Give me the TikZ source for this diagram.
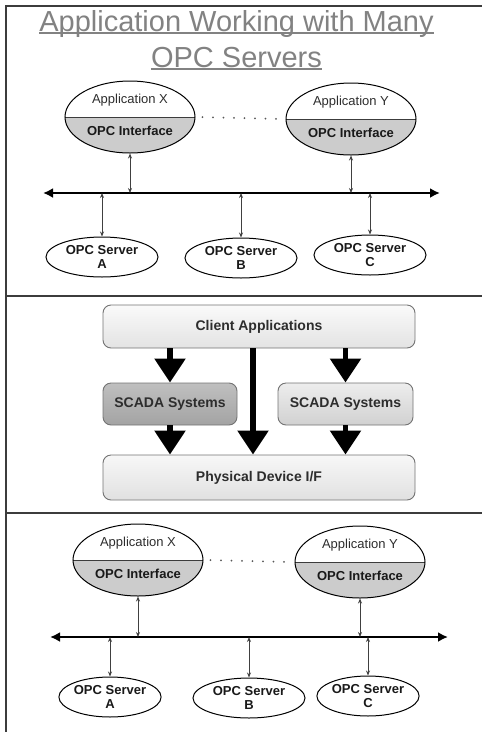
\documentclass[tikz,border=0pt]{standalone}
\usepackage{fontspec}
\setmainfont{Liberation Sans}
\usetikzlibrary{arrows.meta,positioning,shapes.geometric}
\definecolor{titlegray}{RGB}{130,130,130}
\definecolor{framegray}{RGB}{60,60,60}
\definecolor{ifgray}{RGB}{204,204,204}
\definecolor{txtgray}{RGB}{45,45,45}

\begin{document}
\begin{tikzpicture}[x=1pt,y=-1pt,
  frame/.style={draw=framegray,line width=1.4pt},
  heading/.style={anchor=base,inner sep=0pt,text=titlegray,font=\fontsize{29}{32}\selectfont},
  app/.style={ellipse,draw=black,line width=1pt,minimum width=130pt,minimum height=72pt,inner sep=0pt,
    path picture={\fill[ifgray] (path picture bounding box.west) rectangle (path picture bounding box.south east);
      \draw[framegray,line width=0.9pt] (path picture bounding box.west) -- (path picture bounding box.east);}},
  apptxt/.style={inner sep=0pt,text=txtgray,font=\fontsize{13}{15}\selectfont},
  iftxt/.style={inner sep=0pt,text=black!90,font=\fontsize{13}{15}\selectfont\bfseries},
  srv/.style={ellipse,draw=black,line width=1pt,minimum width=112pt,minimum height=40pt,inner sep=0pt,align=center,
    text=black!90,font=\fontsize{13}{13.5}\selectfont\bfseries},
  bus/.style={{Latex[length=10pt,width=10pt]}-{Latex[length=10pt,width=10pt]},line width=2.5pt},
  link/.style={{Stealth[length=5pt,width=4pt]}-{Stealth[length=5pt,width=4pt]},line width=0.8pt,draw=black!75},
  dots/.style={line width=2pt,draw=black!65,line cap=round,dash pattern=on 0pt off 10.5pt,shorten <=7pt,shorten >=4pt},
  layer/.style={draw=black!55,line width=0.9pt,rounded corners=8pt,minimum height=43pt,inner sep=0pt,
    text=txtgray,font=\fontsize{14}{15}\selectfont\bfseries},
  big/.style={-{Triangle[length=24pt,width=30pt]},line width=5.5pt}]

\useasboundingbox (0,0) rectangle (482,732);

% panel frames
\draw[frame] (6,732) -- (6,6) -- (482,6);
\draw[frame] (6,296) -- (482,296);
\draw[frame] (6,513) -- (482,513);

% heading
\node[heading] (title1) at (236.5,31) {Application Working with Many};
\node[heading] (title2) at (236.5,67) {OPC Servers};
\draw[titlegray,line width=1.2pt] ([yshift=-2pt]title1.base west) -- ([yshift=-2pt]title1.base east);
\draw[titlegray,line width=1.2pt] ([yshift=-2pt]title2.base west) -- ([yshift=-2pt]title2.base east);

% applications
\foreach \n/\x/\y/\t in {ax/130/117/X,ay/351/119/Y,bx/138/560/X,by/360/562/Y}{
  \node[app] (\n) at (\x,\y) {};
  \node[apptxt] (\n-name) at ([yshift=17pt]\n.center) {Application \t};
  \node[iftxt] (\n-if) at ([yshift=-14pt]\n.center) {OPC Interface};
}
\draw[dots] (ax.east) -- (ay.west);
\draw[dots] (bx.east) -- (by.west);

% servers
\node[srv] (sa) at (102,257) {OPC Server\\A};
\node[srv] (sb) at (241,258) {OPC Server\\B};
\node[srv] (sc) at (370,255) {OPC Server\\C};
\node[srv,minimum width=95pt] (ta) at (110,697) {OPC Server\\A};
\node[srv] (tb) at (249,698) {OPC Server\\B};
\node[srv,minimum width=94pt] (tc) at (368,696) {OPC Server\\C};

% buses
\coordinate (busL) at (43,193);
\coordinate (busR) at (440,193);
\coordinate (bus2L) at (50,637);
\coordinate (bus2R) at (448,637);
\draw[bus] (busL) -- (busR);
\draw[bus] (bus2L) -- (bus2R);

\foreach \n in {ax,ay}
  \draw[link] (\n.south) -- (\n.south |- busL);
\foreach \n in {sa,sb,sc}
  \draw[link] (\n.north |- busL) -- (\n.north);
\foreach \n in {bx,by}
  \draw[link] (\n.south) -- (\n.south |- bus2L);
\foreach \n in {ta,tb,tc}
  \draw[link] (\n.north |- bus2L) -- (\n.north);

% layered view
\node[layer,minimum width=312pt,top color=gray!4,bottom color=gray!22] (client) at (259,326.5) {Client Applications};
\node[layer,minimum width=134pt,minimum height=42pt,top color=gray!50,bottom color=gray!72] (scadaL) at (170,404) {SCADA Systems};
\node[layer,minimum width=135pt,minimum height=42pt,top color=gray!14,bottom color=gray!36] (scadaR) at (345.5,404) {SCADA Systems};
\node[layer,minimum width=312pt,minimum height=45pt,top color=gray!6,bottom color=gray!24] (phys) at (259,477.5) {Physical Device I/F};

\draw[big] (scadaL.north |- client.south) -- (scadaL.north);
\draw[big] (scadaR.north |- client.south) -- (scadaR.north);
\draw[big] (scadaL.south) -- (scadaL.south |- phys.north);
\draw[big] (scadaR.south) -- (scadaR.south |- phys.north);
\draw[big] ([xshift=-6pt]client.south) -- ([xshift=-6pt]client.south |- phys.north);
\end{tikzpicture}
\end{document}
